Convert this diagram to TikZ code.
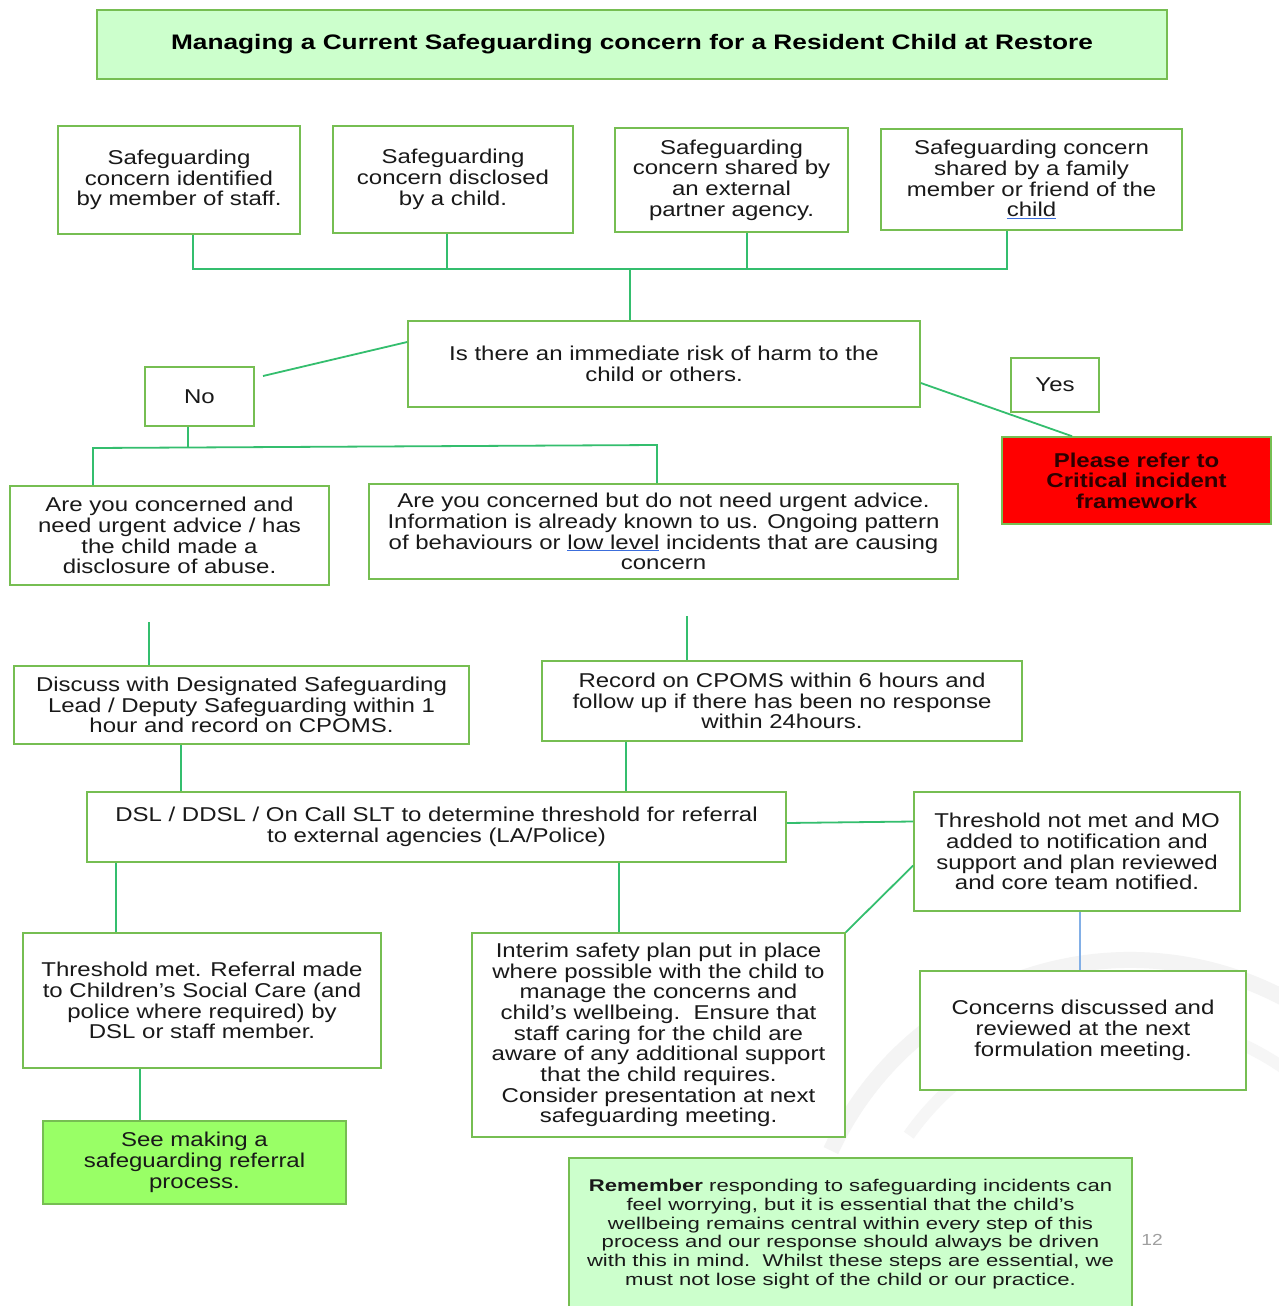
\documentclass[tikz,border=0pt]{standalone}
\usepackage{fontspec}
\setmainfont{Liberation Sans}[FakeStretch=1.2]
\newfontfamily\titlefont{Liberation Sans}[FakeStretch=1.25]
\newfontfamily\notefont{Liberation Sans}[FakeStretch=1.3]
\usetikzlibrary{calc}

\definecolor{boxgreen}{RGB}{118,190,82}
\definecolor{linegreen}{RGB}{52,190,110}
\definecolor{palegreen}{RGB}{204,255,204}
\definecolor{brightgreen}{RGB}{153,255,102}
\definecolor{alertred}{RGB}{255,0,0}
\definecolor{linkblue}{RGB}{60,110,220}
\definecolor{softblue}{RGB}{130,175,230}
\definecolor{txt}{RGB}{25,25,25}

% blue spelling-style underline under black text
\newcommand{\blueul}[1]{{\color{linkblue}\underline{\textcolor{txt}{#1}}}}

\tikzset{
  box/.style={draw=boxgreen, line width=1.6pt, fill=white, align=center,
    inner sep=0pt, text=txt, font=\fontsize{20}{20.7}\selectfont},
  conn/.style={draw=linegreen, line width=1.8pt},
}

\begin{document}
\begin{tikzpicture}[x=1pt,y=-1pt]
\useasboundingbox[fill=white] (0,0) rectangle (1279,1306);

% faint ring watermark
\draw[gray!9, line width=16pt] (1130,1290) ++(205:330) arc[start angle=205, end angle=360, radius=330];
\draw[gray!7, line width=12pt] (1130,1290) ++(215:270) arc[start angle=215, end angle=330, radius=270];

% title
\node[box, fill=palegreen, minimum width=1070, minimum height=69,
  font=\titlefont\bfseries\fontsize{21}{22}\selectfont, text=black]
  (title) at (632,44.5) {Managing a Current Safeguarding concern for a Resident Child at Restore};

% sources of concern
\node[box, minimum width=242, minimum height=108] (A1) at (179,180)
  {Safeguarding\\concern identified\\by member of staff.};
\node[box, minimum width=240, minimum height=107] (A2) at (453,179.5)
  {Safeguarding\\concern disclosed\\by a child.};
\node[box, minimum width=233, minimum height=104] (A3) at (731.5,180)
  {Safeguarding\\concern shared by\\an external\\partner agency.};
\node[box, minimum width=301, minimum height=101] (A4) at (1031.5,179.5)
  {Safeguarding concern\\shared by a family\\member or friend of the\\\blueul{child}};

% risk question
\node[box, minimum width=512, minimum height=86] (Q) at (664,364)
  {Is there an immediate risk of harm to the\\child or others.};
\node[box, minimum width=109, minimum height=59] (No) at (199.5,396.5) {No};
\node[box, minimum width=88, minimum height=54] (Yes) at (1055,385) {Yes};
\node[box, fill=alertred, minimum width=269, minimum height=87,
  font=\bfseries\fontsize{20}{20.5}\selectfont, text={rgb,255:red,45;green,0;blue,0}]
  (Red) at (1136.5,480.5) {Please refer to\\Critical incident\\framework};

% urgency
\node[box, minimum width=319, minimum height=99] (B1) at (169.5,535.5)
  {Are you concerned and\\need urgent advice / has\\the child made a\\disclosure of abuse.};
\node[box, minimum width=589, minimum height=95] (B2) at (663.5,531.5)
  {Are you concerned but do not need urgent advice.\\Information is already known to us. Ongoing pattern\\of behaviours or \blueul{low level} incidents that are causing\\concern};

\node[box, minimum width=455, minimum height=78] (C1) at (241.5,705)
  {Discuss with Designated Safeguarding\\Lead / Deputy Safeguarding within 1\\hour and record on CPOMS.};
\node[box, minimum width=480, minimum height=80] (C2) at (782,701)
  {Record on CPOMS within 6 hours and\\follow up if there has been no response\\within 24hours.};

% threshold decision
\node[box, minimum width=699, minimum height=70] (D) at (436.5,827)
  {DSL / DDSL / On Call SLT to determine threshold for referral\\to external agencies (LA/Police)};
\node[box, minimum width=326, minimum height=119] (E) at (1077,851.5)
  {Threshold not met and MO\\added to notification and\\support and plan reviewed\\and core team notified.};

\node[box, minimum width=358, minimum height=135] (F1) at (202,1000.5)
  {Threshold met. Referral made\\to Children’s Social Care (and\\police where required) by\\DSL or staff member.};
\node[box, minimum width=373, minimum height=204] (F2) at (658.5,1035)
  {Interim safety plan put in place\\where possible with the child to\\manage the concerns and\\child’s wellbeing.\ \ Ensure that\\staff caring for the child are\\aware of any additional support\\that the child requires.\\Consider presentation at next\\safeguarding meeting.};
\node[box, minimum width=326, minimum height=119] (G) at (1083,1030.5)
  {Concerns discussed and\\reviewed at the next\\formulation meeting.};
\node[box, fill=brightgreen, minimum width=303, minimum height=83] (H) at (194.5,1162.5)
  {See making a\\safeguarding referral\\process.};

\node[box, fill=palegreen, minimum width=563, minimum height=152,
  font=\notefont\fontsize{17}{18.8}\selectfont] (R) at (850.5,1234)
  {\textbf{Remember} responding to safeguarding incidents can\\feel worrying, but it is essential that the child’s\\wellbeing remains central within every step of this\\process and our response should always be driven\\with this in mind.\ \ Whilst these steps are essential, we\\must not lose sight of the child or our practice.};

\node[text=gray!75, font=\fontsize{16}{18}\selectfont, inner sep=0pt] (pg) at (1152,1240) {12};

% connectors: sources merge into the question
\coordinate (j1) at (193,269);
\coordinate (j2) at (447,269);
\coordinate (j3) at (747,269);
\coordinate (j4) at (1007,269);
\coordinate (jq) at (630,269);
\draw[conn] (A1.south -| j1) -- (j1) -- (j4) -- (A4.south -| j4);
\draw[conn] (A2.south -| j2) -- (j2);
\draw[conn] (A3.south -| j3) -- (j3);
\draw[conn] (jq) -- (Q.north -| jq);

% No / Yes branches
\coordinate (noend) at (263,376);
\draw[conn] ([yshift=22pt]Q.west) -- (noend);
\coordinate (ry) at (1072,0);
\draw[conn] ([yshift=-19pt]Q.east) -- (Red.north -| ry);

\coordinate (nb) at (188,447);
\coordinate (bl) at (93,448);
\coordinate (br) at (657,445);
\draw[conn] (No.south -| nb) -- (nb);
\draw[conn] (B1.north -| bl) -- (bl) -- (br) -- (B2.north -| br);

% urgency to actions
\coordinate (g1) at (149,622);
\coordinate (g2) at (687,616);
\draw[conn] (g1) -- (C1.north -| g1);
\draw[conn] (g2) -- (C2.north -| g2);

\coordinate (k1) at (181,0);
\coordinate (k2) at (626,0);
\draw[conn] (C1.south -| k1) -- (D.north -| k1);
\draw[conn] (C2.south -| k2) -- (D.north -| k2);

% threshold outcomes
\draw[conn] ([yshift=4pt]D.east) -- ([yshift=30pt]E.west);
\coordinate (k3) at (116,0);
\coordinate (k4) at (619,0);
\draw[conn] (D.south -| k3) -- (F1.north -| k3);
\draw[conn] (D.south -| k4) -- (F2.north -| k4);
\draw[conn] (F2.north east) -- ([yshift=-14pt]E.west);
\coordinate (k5) at (1080,0);
\draw[draw=softblue, line width=1.8pt] (E.south -| k5) -- (G.north -| k5);
\coordinate (k6) at (140,0);
\draw[conn] (F1.south -| k6) -- (H.north -| k6);

\end{tikzpicture}
\end{document}
